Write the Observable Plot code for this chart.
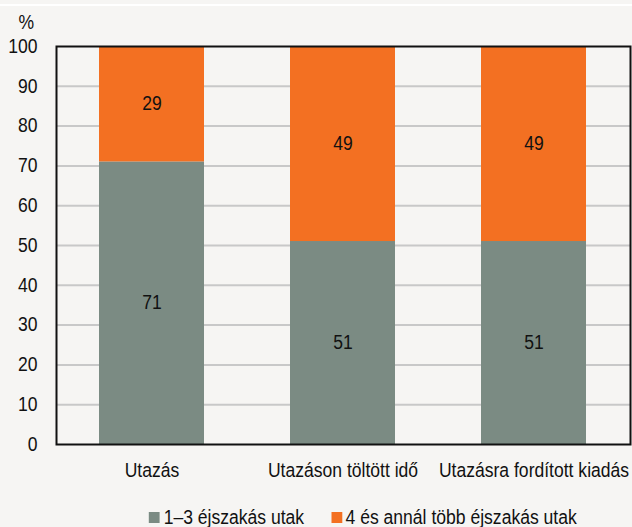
<!DOCTYPE html>
<html>
<head>
<meta charset="utf-8">
<script src="https://cdn.jsdelivr.net/npm/d3@7"></script>
<script src="https://cdn.jsdelivr.net/npm/@observablehq/plot@0.6"></script>
<style>
  html, body { margin: 0; padding: 0; background: #f6f5f3; }
  body { width: 632px; height: 527px; overflow: hidden; font-family: "Liberation Sans", Arial, sans-serif; }
  .topline { height: 4px; border-bottom: 2px solid #ffffff; }
  #chart svg { display: block; overflow: visible; }
  .legend { display: flex; justify-content: center; gap: 30px; font-size: 19.5px; color: #111; margin-left: 70px; margin-top: 16px; transform: scaleX(0.9); transform-origin: 356px 50%; width: 572px; }
  .legend span.item { display: inline-flex; align-items: center; }
  .legend i { display: inline-block; width: 12px; height: 11px; margin-right: 4px; }
</style>
</head>
<body>
<div class="topline"></div>
<div id="chart"></div>
<div class="legend" id="legend"></div>
<script>
const categories = ["Utazás", "Utazáson töltött idő", "Utazásra fordított kiadás"];
const seriesNames = ["1–3 éjszakás utak", "4 és annál több éjszakás utak"];
const shortTrips = [71, 51, 51];
const longTrips = [29, 49, 49];
const colors = ["#7b8b83", "#f37022"];
const yTicks = [0, 10, 20, 30, 40, 50, 60, 70, 80, 90, 100];

const data = [];
categories.forEach((c, i) => {
  data.push({category: c, series: seriesNames[0], value: shortTrips[i]});
  data.push({category: c, series: seriesNames[1], value: longTrips[i]});
});

const font = "'Liberation Sans', Arial, sans-serif";
const plot = Plot.plot({
  width: 632,
  height: 484,
  marginTop: 40,
  marginBottom: 46,
  marginLeft: 56,
  marginRight: 2,
  style: {fontFamily: font, fontSize: "19.5px", background: "transparent", color: "#111"},
  x: {domain: categories, paddingInner: 0.45, paddingOuter: 0.225, label: null, tickSize: 0, tickPadding: 19},
  y: {domain: [0, 100], ticks: yTicks, label: "%", labelAnchor: "top", labelArrow: "none", labelOffset: 38, tickSize: 0, tickPadding: 19},
  color: {domain: seriesNames, range: colors},
  marks: [
    Plot.ruleY(yTicks.filter(d => d > 0 && d < 100), {stroke: "#c8c8c8", strokeWidth: 2}),
    Plot.barY(data, Plot.stackY({x: "category", y: "value", fill: "series", order: seriesNames})),
    Plot.text(data, Plot.stackY({x: "category", y: "value", z: "series", order: seriesNames, text: d => String(d.value), fill: "#111", fontSize: 19.5})),
    Plot.frame({stroke: "#111", strokeWidth: 2})
  ]
});
document.getElementById("chart").appendChild(plot);

// condense all text horizontally (about its anchor point), like the reference's narrow type
plot.querySelectorAll("text").forEach(t => {
  const ax = +(t.getAttribute("x") || 0);
  const prev = t.getAttribute("transform") || "";
  t.setAttribute("transform", `${prev} translate(${ax},0) scale(0.9,1) translate(${-ax},0)`);
});
// nudge the "%" unit label down a little
const yLabel = plot.querySelector('[aria-label="y-axis label"]');
if (yLabel) {
  const prev = yLabel.getAttribute("transform") || "";
  yLabel.setAttribute("transform", prev + " translate(0,6)");
}

const legend = document.getElementById("legend");
seriesNames.forEach((s, i) => {
  const item = document.createElement("span");
  item.className = "item";
  item.innerHTML = `<i style="background:${colors[i]}"></i>${s}`;
  legend.appendChild(item);
});
</script>
</body>
</html>
